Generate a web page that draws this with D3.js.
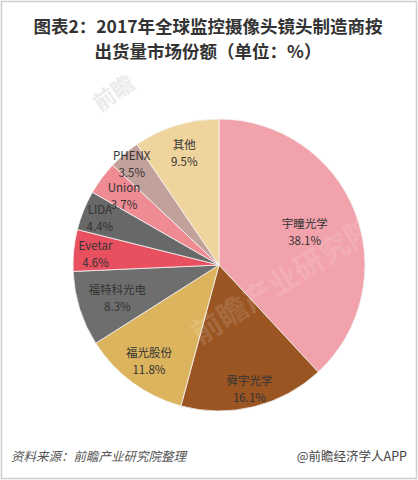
<!DOCTYPE html>
<html><head><meta charset="utf-8">
<script src="https://cdn.jsdelivr.net/npm/d3@7"></script>
<style>
html,body{margin:0;padding:0;background:#fff;}
svg{display:block;}
</style></head>
<body>
<svg id="c" width="418" height="480"></svg>
<script>
const categories = ["宇瞳光学","舜宇光学","福光股份","福特科光电","Evetar","LIDA","Union","PHENX","其他"];
const values = [38.1,16.1,11.8,8.3,4.6,4.4,3.7,3.5,9.5];
const colors = ["#F2A2AB","#9A5523","#DDB45E","#6E6E6E","#E8505F","#686868","#EE8B93","#C3A19B","#F0D49E"];
const labelRadius = [0.63,0.87,0.81,0.73,0.85,0.88,0.81,0.92,0.81];
const titleLines = ["图表2：2017年全球监控摄像头镜头制造商按","出货量市场份额（单位：%）"];
const sourceText = "资料来源：前瞻产业研究院整理";
const brandText = "@前瞻经济学人APP";

const svg = d3.select("#c");
const W = 418, H = 480;
const font = "'Noto Sans CJK SC','Noto Sans',sans-serif";

svg.append("rect").attr("x",1.5).attr("y",1.5).attr("width",W-3).attr("height",H-3)
  .attr("fill","#fff").attr("stroke","#cfcfcf").attr("stroke-width",1.5);

// title
svg.selectAll("text.title").data(titleLines).enter().append("text")
  .attr("class","title").attr("x",208).attr("y",(d,i)=>33+i*25)
  .attr("text-anchor","middle").attr("font-family",font).attr("font-weight","bold")
  .attr("font-size",17.5).attr("fill","#333").text(d=>d);

// watermark (top-left, outside pie)
svg.append("text").attr("transform","translate(100,112) rotate(-35)")
  .attr("font-family",font).attr("font-weight","bold").attr("font-size",22)
  .attr("fill","#ebebeb").text("前瞻");

const cx = 219, cy = 265, R = 146;
const g = svg.append("g").attr("transform",`translate(${cx},${cy})`);
const data = categories.map((c,i)=>({name:c,value:values[i],color:colors[i],lr:labelRadius[i]}));
const pie = d3.pie().value(d=>d.value).sort(null);
const arc = d3.arc().innerRadius(0).outerRadius(R);
const arcs = pie(data);

g.selectAll("path").data(arcs).enter().append("path")
  .attr("d",arc).attr("fill",d=>d.data.color)
  .attr("stroke","#f4f4f4").attr("stroke-width",0.8);

// watermark over pie
svg.append("text").attr("transform","translate(200,345) rotate(-32)")
  .attr("font-family",font).attr("font-weight","bold").attr("font-size",30)
  .attr("fill","#fff").attr("fill-opacity",0.14).text("前瞻产业研究院");

const lab = g.selectAll("g.lab").data(arcs).enter().append("g").attr("class","lab")
  .attr("transform",d=>{
    const a = (d.startAngle+d.endAngle)/2;
    const r = R*d.data.lr;
    return `translate(${Math.sin(a)*r},${-Math.cos(a)*r})`;
  });
lab.append("text").attr("y",-3).attr("text-anchor","middle")
  .attr("font-family",font).attr("font-size",11.5).attr("fill","#333")
  .text(d=>d.data.name);
lab.append("text").attr("y",14).attr("text-anchor","middle")
  .attr("font-family",font).attr("font-size",11.5).attr("fill","#333")
  .text(d=>d3.format(".1f")(d.data.value)+"%");

// footer
svg.append("text").attr("x",11).attr("y",461).attr("font-family",font)
  .attr("font-size",12.5).attr("font-style","italic").attr("fill","#555")
  .text(sourceText);
svg.append("text").attr("x",407).attr("y",461).attr("text-anchor","end")
  .attr("font-family",font).attr("font-size",12.5).attr("fill","#444").text(brandText);
</script>
</body></html>
